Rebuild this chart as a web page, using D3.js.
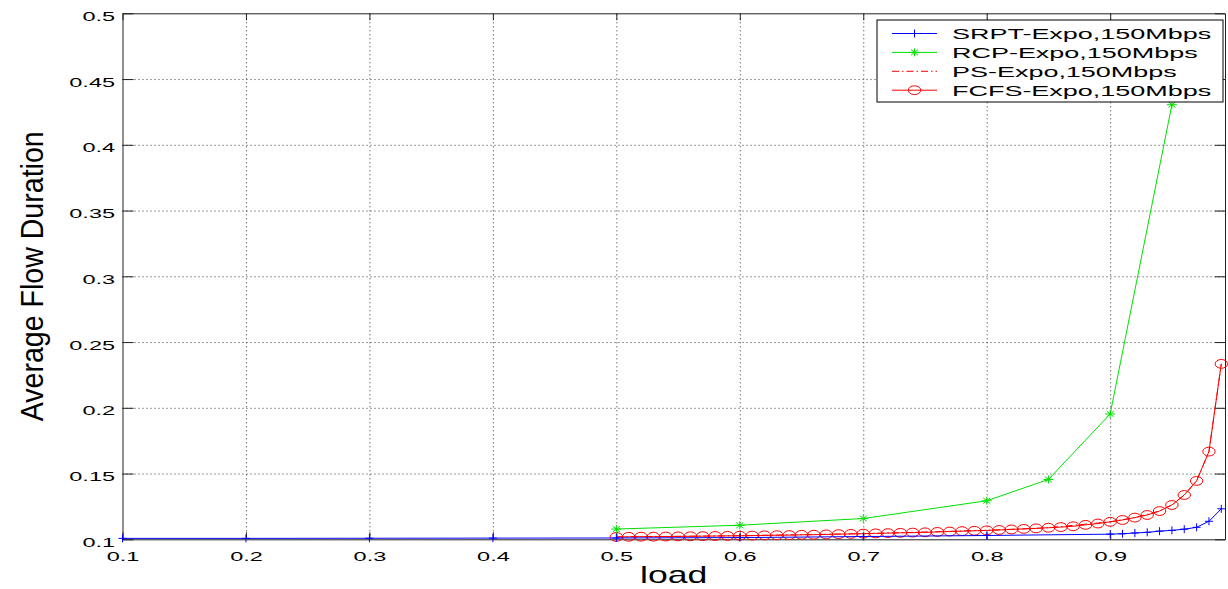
<!DOCTYPE html>
<meta charset="utf-8">
<style>
body { margin: 0; background: #fff; }
text { font-family: "Liberation Sans", Arial, sans-serif; fill: #000; }
.grid line { stroke: #333; stroke-dasharray: 1,3; }
.grid path { display: none; }
.axis path, .axis line { stroke: #222; }
</style>
<svg width="1228" height="589"></svg>
<script src="https://d3js.org/d3.v7.min.js"></script>
<script>

// values
var xTicks = [0.1, 0.2, 0.3, 0.4, 0.5, 0.6, 0.7, 0.8, 0.9];
var yTicks = [0.1, 0.15, 0.2, 0.25, 0.3, 0.35, 0.4, 0.45, 0.5];

var srptLoad = [0.1, 0.2, 0.3, 0.4, 0.5, 0.6, 0.7, 0.8, 0.9, 0.91, 0.92, 0.93, 0.94, 0.95, 0.96, 0.97, 0.98, 0.99];
var srptVal = [0.1007, 0.1007, 0.1008, 0.1009, 0.101, 0.1013, 0.1021, 0.1029, 0.1039, 0.1042, 0.1048, 0.1053, 0.1062, 0.1068, 0.1077, 0.1091, 0.1137, 0.1232];

var rcpLoad = [0.5, 0.6, 0.7, 0.8, 0.85, 0.9, 0.95];
var rcpVal = [0.1078, 0.1107, 0.1158, 0.1293, 0.1455, 0.1953, 0.4305];

var fcfsLoad = [0.5, 0.51, 0.52, 0.53, 0.54, 0.55, 0.56, 0.57, 0.58, 0.59,
  0.6, 0.61, 0.62, 0.63, 0.64, 0.65, 0.66, 0.67, 0.68, 0.69,
  0.7, 0.71, 0.72, 0.73, 0.74, 0.75, 0.76, 0.77, 0.78, 0.79,
  0.8, 0.81, 0.82, 0.83, 0.84, 0.85, 0.86, 0.87, 0.88, 0.89,
  0.9, 0.91, 0.92, 0.93, 0.94, 0.95, 0.96, 0.97, 0.98, 0.99];
var fcfsVal = [0.1018, 0.1019, 0.102, 0.102, 0.1021, 0.1022, 0.1023, 0.1024, 0.1025, 0.1026,
  0.1027, 0.1028, 0.103, 0.1031, 0.1032, 0.1034, 0.1035, 0.1037, 0.1039, 0.1041,
  0.1043, 0.1045, 0.1047, 0.1049, 0.1051, 0.1053, 0.1056, 0.1059, 0.1062, 0.1065,
  0.1068, 0.1071, 0.1075, 0.1079, 0.1083, 0.1088, 0.1093, 0.1099, 0.111, 0.112,
  0.1133, 0.1147, 0.1165, 0.1185, 0.1215, 0.1261, 0.1337, 0.1444, 0.1667, 0.2334];

// PS lies under the FCFS curve in the picture
var psLoad = [0.5, 0.6, 0.7, 0.8, 0.85, 0.9, 0.92, 0.94, 0.95, 0.96, 0.97, 0.98, 0.99];
var psVal = [0.1018, 0.1027, 0.1043, 0.1068, 0.1088, 0.1133, 0.1165, 0.1215, 0.1261, 0.1337, 0.1444, 0.1667, 0.2334];

var names = ["SRPT-Expo,150Mbps", "RCP-Expo,150Mbps", "PS-Expo,150Mbps", "FCFS-Expo,150Mbps"];

var svg = d3.select("svg"),
    pl = 122.5, pr = 1225, pt = 13.3, pb = 539.3,
    sx = 1.74;  // text in the picture is stretched sideways

var x = d3.scaleLinear().domain([0.1, 0.993]).range([pl, pr]);
var y = d3.scaleLinear().domain([0.1, 0.5]).range([pb, pt]);

// dotted grid
svg.append("g").attr("class", "grid")
    .attr("transform", "translate(0," + pb + ")")
    .call(d3.axisBottom(x).tickValues(xTicks.slice(1)).tickSize(-(pb - pt)).tickFormat(""));
svg.append("g").attr("class", "grid")
    .attr("transform", "translate(" + pl + ",0)")
    .call(d3.axisLeft(y).tickValues(yTicks.slice(1, -1)).tickSize(-(pr - pl)).tickFormat(""));

// axes, ticks inside
var fmt = function(d) { return String(d); };
var gx = svg.append("g").attr("class", "axis")
    .attr("transform", "translate(0," + pb + ")")
    .call(d3.axisBottom(x).tickValues(xTicks).tickSize(-7).tickSizeOuter(0).tickFormat(fmt));
gx.selectAll("text").attr("font-size", 13.5).attr("font-family", null)
    .attr("transform", "scale(" + sx + ",1)").attr("y", 12).attr("dy", "0.71em");

var gy = svg.append("g").attr("class", "axis")
    .attr("transform", "translate(" + pl + ",0)")
    .call(d3.axisLeft(y).tickValues(yTicks).tickSize(-11).tickSizeOuter(0).tickFormat(fmt));
gy.selectAll("text").attr("font-size", 13.5).attr("font-family", null)
    .attr("transform", "scale(" + sx + ",1)").attr("x", -7.5 / sx).attr("dy", "0.52em");

svg.append("g").attr("class", "axis")
    .attr("transform", "translate(0," + pt + ")")
    .call(d3.axisTop(x).tickValues(xTicks).tickSize(-7).tickSizeOuter(0).tickFormat(""));
svg.append("g").attr("class", "axis")
    .attr("transform", "translate(" + pr + ",0)")
    .call(d3.axisRight(y).tickValues(yTicks).tickSize(-10).tickSizeOuter(0).tickFormat(""));

// axis titles
svg.append("text")
    .attr("transform", "translate(" + ((pl + pr) / 2) + ",583) scale(1.55,1)")
    .attr("text-anchor", "middle").attr("font-size", 23)
    .text("load");
svg.append("text")
    .attr("transform", "translate(43," + ((pt + pb) / 2) + ") rotate(-90)")
    .attr("text-anchor", "middle").attr("font-size", 31)
    .attr("textLength", 290).attr("lengthAdjust", "spacingAndGlyphs")
    .text("Average Flow Duration");

// markers
function plus(g, r) {
  g.append("path").attr("d", "M" + -r + ",0H" + r + "M0," + -r + "V" + r);
}
function star(g, rx, ry) {
  g.append("path").attr("d", "M" + -rx + ",0H" + rx + "M0," + -ry + "V" + ry +
    "M" + -rx * 0.7 + "," + -ry * 0.7 + "L" + rx * 0.7 + "," + ry * 0.7 +
    "M" + -rx * 0.7 + "," + ry * 0.7 + "L" + rx * 0.7 + "," + -ry * 0.7);
}
function ring(g) {
  g.append("ellipse").attr("rx", 6.2).attr("ry", 4.4).attr("fill", "none");
}

var line = d3.line().x(function(d) { return x(d[0]); }).y(function(d) { return y(d[1]); });
function pairs(a, b) { return a.map(function(v, i) { return [v, b[i]]; }); }

var series = [
  { data: pairs(psLoad, psVal), color: "#ff0000", dash: "7,3,1.5,3", mark: null },
  { data: pairs(fcfsLoad, fcfsVal), color: "#ff0000", dash: null, mark: ring },
  { data: pairs(rcpLoad, rcpVal), color: "#00e000", dash: null, mark: function(g) { star(g, 5, 4); } },
  { data: pairs(srptLoad, srptVal), color: "#0000ff", dash: null, mark: function(g) { plus(g, 4); } }
];

series.forEach(function(s) {
  svg.append("path").datum(s.data)
      .attr("d", line).attr("fill", "none")
      .attr("stroke", s.color).attr("stroke-width", 1)
      .attr("stroke-dasharray", s.dash);
  if (s.mark) {
    svg.append("g").selectAll("g").data(s.data).enter().append("g")
        .attr("transform", function(d) { return "translate(" + x(d[0]) + "," + y(d[1]) + ")"; })
        .attr("stroke", s.color).attr("stroke-width", 1)
        .each(function() { s.mark(d3.select(this)); });
  }
});

// legend
var lg = svg.append("g").attr("transform", "translate(877,20)");
lg.append("rect").attr("width", 346).attr("height", 82)
    .attr("fill", "#fff").attr("stroke", "#000").attr("stroke-width", 1);

var legendStyle = [series[3], series[2], series[0], series[1]];
names.forEach(function(n, i) {
  var s = legendStyle[i], ry = 13.5 + i * 18.9;
  lg.append("line").attr("x1", 15).attr("x2", 60).attr("y1", ry).attr("y2", ry)
      .attr("stroke", s.color).attr("stroke-dasharray", s.dash);
  if (s.mark) {
    var m = lg.append("g").attr("transform", "translate(37.5," + ry + ")").attr("stroke", s.color);
    s.mark(m);
  }
  lg.append("text")
      .attr("transform", "translate(75," + (ry + 5.8) + ") scale(" + sx + ",1)")
      .attr("font-size", 15.5)
      .text(n);
});

</script>
